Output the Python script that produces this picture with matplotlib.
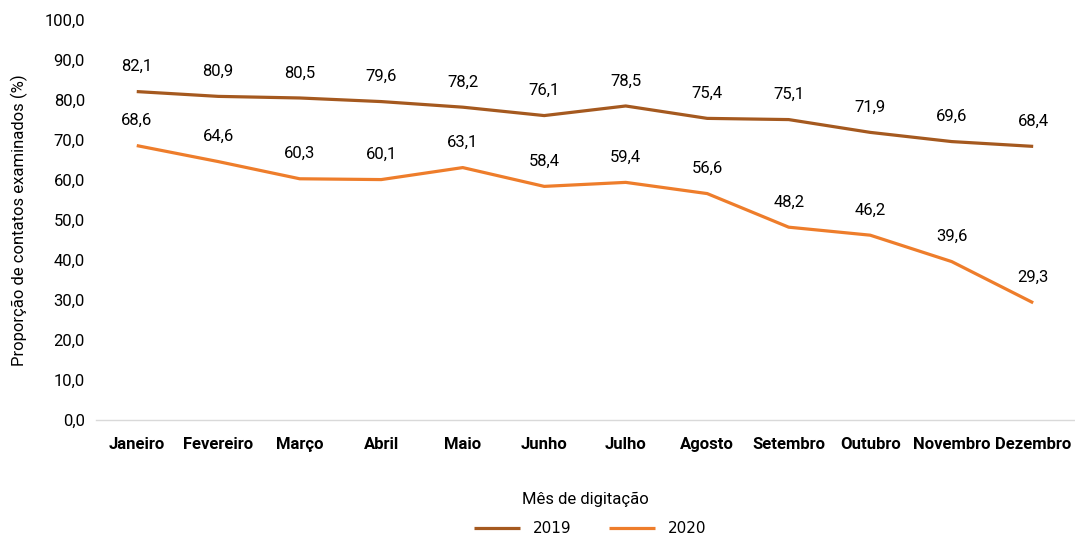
import matplotlib
matplotlib.use("Agg")
import matplotlib.pyplot as plt
from matplotlib import font_manager
from matplotlib.ticker import FuncFormatter

# ---- dados ----
meses = ["Janeiro", "Fevereiro", "Março", "Abril", "Maio", "Junho", "Julho",
         "Agosto", "Setembro", "Outubro", "Novembro", "Dezembro"]
prop_2019 = [82.1, 80.9, 80.5, 79.6, 78.2, 76.1, 78.5, 75.4, 75.1, 71.9, 69.6, 68.4]
prop_2020 = [68.6, 64.6, 60.3, 60.1, 63.1, 58.4, 59.4, 56.6, 48.2, 46.2, 39.6, 29.3]

names = {f.name for f in font_manager.fontManager.ttflist}
fam = "Liberation Sans Narrow" if "Liberation Sans Narrow" in names else "Roboto"
plt.rcParams["font.family"] = [fam, "DejaVu Sans"]

fig = plt.figure(figsize=(10.75, 5.37), dpi=100)
ax = fig.add_axes([0.0893, 0.2179, 0.9097, 0.7449])

x = [i + 0.5 for i in range(len(meses))]
cor19 = "#A5591F"
cor20 = "#EE7D2B"
ax.plot(x, prop_2019, color=cor19, lw=2.3, label="2019", solid_capstyle="butt")
ax.plot(x, prop_2020, color=cor20, lw=2.3, label="2020", solid_capstyle="butt")

def fmt(v):
    return f"{v:.1f}".replace(".", ",")

for serie in (prop_2019, prop_2020):
    for xi, v in zip(x, serie):
        ax.annotate(fmt(v), (xi, v), xytext=(0, 18), textcoords="offset points",
                    ha="center", va="center", fontsize=12)

ax.set_xlim(0, 12)
ax.set_ylim(0, 100)
ax.set_yticks(range(0, 101, 10))
ax.yaxis.set_major_formatter(FuncFormatter(lambda v, p: fmt(v)))
ax.set_xticks(x)
ax.set_xticklabels(meses, fontweight="bold", fontsize=12)
ax.tick_params(axis="y", labelsize=12, length=0, pad=8)
ax.tick_params(axis="x", length=0, pad=12)

for s in ["top", "right", "left"]:
    ax.spines[s].set_visible(False)
ax.spines["bottom"].set_color("#D9D9D9")
ax.spines["bottom"].set_linewidth(1)

ax.set_ylabel("Proporção de contatos examinados (%)", fontsize=12)
ax.yaxis.set_label_coords(-0.07, 0.5)
ax.set_xlabel("Mês de digitação", fontsize=12)
ax.xaxis.set_label_coords(0.5, -0.18)

fig.legend(loc="center", bbox_to_anchor=(0.549, 0.015), ncol=2, frameon=False,
           handlelength=3, columnspacing=2.5,
           prop={"family": ["DejaVu Sans"], "size": 11})

fig.savefig("out.png", dpi=100)
